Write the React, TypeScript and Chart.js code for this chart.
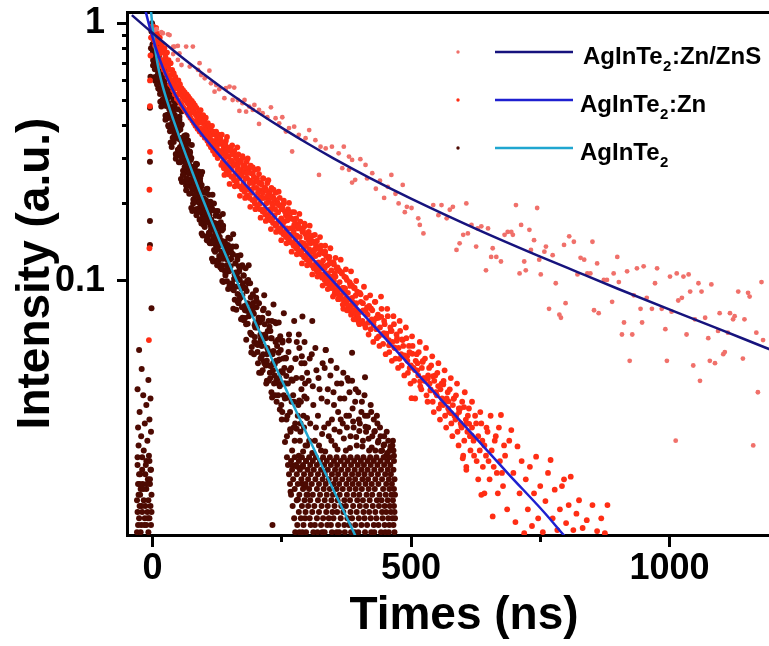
import { useEffect, useRef } from 'react';
import { Chart, registerables } from 'chart.js';

Chart.register(...registerables);

// ---------------- data ----------------
const seriesLabels = ['AgInTe₂:Zn/ZnS', 'AgInTe₂:Zn', 'AgInTe₂'];
const xTitle = 'Times (ns)';
const yTitle = 'Intensity (a.u.)';
const xMajorTicks = [0, 500, 1000];
const xMinorTicks = [250, 750];
const yMajorTicks = [1, 0.1];
const yMajorLabels = ['1', '0.1'];
const yMinorTicks = [0.9, 0.8, 0.7, 0.6, 0.5, 0.4, 0.3, 0.2];
const xRange = [-49.4, 1254.4];
const yRange = [0.010335, 1.1062];

// fitted decay curves
const fitZnS: [number, number][] = [[-40,1.076],[0,0.917],[50,0.757],[100,0.633],[150,0.534],[200,0.456],[258,0.384],[300,0.3415],[350,0.2992],[418,0.2526],[500,0.2089],[629,0.1584],[750,0.1244],[821,0.1085],[900,0.0933],[1014,0.0755],[1100,0.0646],[1185,0.0552],[1260,0.0482]];
const fitZn: [number, number][] = [[-14,1.126],[-12,1.085],[-6,0.974],[0,0.883],[5,0.818],[10,0.763],[20,0.672],[30,0.602],[45,0.524],[65,0.449],[90,0.383],[110,0.3414],[130,0.3064],[160,0.2618],[200,0.2132],[260,0.1571],[320,0.1158],[380,0.0854],[440,0.063],[515,0.043],[570,0.0326],[630,0.024],[690,0.0177],[760,0.0125],[795,0.01035],[810,0.0096]];
const fitBare: [number, number][] = [[-3,1.12],[0,0.964],[3,0.852],[6,0.771],[10,0.6915],[15,0.6206],[20,0.567],[30,0.4865],[40,0.4236],[52,0.3617],[65,0.3066],[78,0.2612],[90,0.2261],[100,0.2011],[114,0.1711],[130,0.143],[150,0.115],[175,0.0881],[200,0.0682],[230,0.0503],[260,0.0373],[300,0.0251],[340,0.017],[392,0.0103],[400,0.0095]];

// measured decay points: AgInTe2:Zn/ZnS
const znsPoints: [number, number][] = [
[4,0.942],[8,0.948],[17,0.923],[20,0.915],[30,0.906],[33,0.9],[40,0.811],[43,0.812],[49,0.817],[65,0.812],[78,0.812],[40,0.76],[49,0.721],[52,0.765],[56,0.689],[72,0.679],[88,0.659],[91,0.7],[94,0.63],[110,0.655],[101,0.612],[113,0.585],[123,0.576],[129,0.555],[120,0.543],[142,0.56],[149,0.568],[158,0.563],[139,0.512],[155,0.504],[165,0.504],[178,0.504],[174,0.49],[187,0.475],[197,0.482],[168,0.457],[181,0.454],[194,0.461],[206,0.461],[213,0.448],[229,0.472],[222,0.432],[238,0.428],[251,0.432],[206,0.407],[245,0.409],[264,0.392],[274,0.397],[258,0.38],[283,0.369],[303,0.385],[296,0.358],[315,0.352],[270,0.318],[325,0.332],[335,0.327],[347,0.332],[370,0.332],[322,0.258],[360,0.313],[380,0.304],[386,0.295],[402,0.297],[367,0.274],[380,0.27],[392,0.247],[386,0.241],[412,0.282],[415,0.25],[425,0.262],[432,0.228],[440,0.245],[448,0.21],[455,0.232],[462,0.258],[470,0.218],[476,0.2],[484,0.236],[488,0.185],
[492,0.194],[501,0.192],[514,0.175],[517,0.165],[524,0.153],[543,0.197],[559,0.197],[553,0.18],[569,0.175],[575,0.189],[581,0.194],[607,0.2],[588,0.132],[594,0.14],[601,0.151],[610,0.153],[617,0.165],[626,0.136],[629,0.16],[636,0.163],[645,0.11],[649,0.16],[655,0.124],[658,0.134],[665,0.124],[674,0.119],[681,0.151],[687,0.155],[694,0.155],[697,0.151],[703,0.197],[710,0.107],[713,0.165],[719,0.119],[722,0.11],[729,0.158],[732,0.132],[738,0.144],[744,0.192],[748,0.121],[751,0.106],[758,0.13],[761,0.136],[767,0.078],[774,0.126],[780,0.098],[787,0.074],[790,0.072],[796,0.138],[799,0.082],[806,0.149],[815,0.142],[822,0.106],[828,0.123],[835,0.121],[841,0.107],[847,0.107],[851,0.142],[854,0.077],[860,0.117],[863,0.075],[873,0.101],[879,0.101],[889,0.083],[892,0.107],[899,0.124],[902,0.099],[908,0.062],[912,0.069],[918,0.109],[923,0.049],[928,0.062],[931,0.088],[937,0.112],[944,0.078],[947,0.069],[950,0.114],[956,0.086],[966,0.078],[972,0.098],[976,0.112],[985,0.078],[992,0.065],[995,0.049],[1001,0.104],[1004,0.076],[1012,0.024],[1014,0.107],[1017,0.084],[1024,0.086],[1027,0.104],[1033,0.062],[1037,0.106],[1040,0.091],[1046,0.047],[1049,0.071],[1056,0.098],[1059,0.041],[1062,0.091],[1069,0.072],[1075,0.06],[1078,0.049],[1081,0.097],[1088,0.048],[1094,0.064],[1097,0.075],[1104,0.052],[1107,0.053],[1113,0.063],[1117,0.075],[1123,0.071],[1126,0.073],[1133,0.091],[1142,0.05],[1145,0.071],[1152,0.09],[1155,0.087],[1162,0.023],[1168,0.063],[1171,0.037],[1178,0.099],[1181,0.059]
];

// measured decay points: AgInTe2:Zn
const znPoints: [number, number][] = [
[-7,0.059],[-6,0.134],[-6,0.226],[-5,0.317],[-5,0.477],[-5,0.6],[-4,0.75],[-3,0.88],[-2,0.97],
[0,0.95],[1,0.9],[2,0.97],[3,0.86],[4,0.93],[5,0.82],[6,0.89],[7,0.96],[8,0.8],[9,0.87],[10,0.91],[11,0.78],
[12,0.84],[13,0.76],[14,0.88],[15,0.72],[16,0.8],[17,0.7],[18,0.83],[19,0.68],[20,0.77],[21,0.72],[22,0.66],[23,0.8],[24,0.69],[25,0.74],[26,0.64],[27,0.71],[28,0.77],[29,0.62],[30,0.68],
[31,0.72],[32,0.61],[33,0.66],[34,0.58],[35,0.7],[36,0.63],[37,0.57],[38,0.66],[39,0.6],[40,0.55],[41,0.64],[42,0.58],[43,0.53],[44,0.62],[45,0.56],[46,0.6],[47,0.51],[48,0.57],[49,0.53],[50,0.6],[51,0.5],[52,0.55],[53,0.58],[54,0.49],[55,0.53],[56,0.56],[57,0.48],[58,0.52],[59,0.55],[60,0.47],
[61,0.51],[62,0.54],[63,0.46],[64,0.5],[66,0.53],[67,0.45],[68,0.49],[69,0.52],[70,0.44],[71,0.47],[72,0.51],[73,0.43],[74,0.48],[75,0.45],[76,0.5],[77,0.42],[78,0.46],[79,0.49],[80,0.41],[81,0.45],[82,0.48],[83,0.4],[84,0.44],[85,0.47],[86,0.42],[87,0.39],[88,0.45],[89,0.41],[90,0.44],[91,0.38],[92,0.42],[93,0.46],[94,0.39],[95,0.43],[96,0.37],[97,0.41],[98,0.44],[99,0.38],[100,0.42],[101,0.36],[102,0.4],[103,0.43],[104,0.37],[105,0.39],[106,0.35],[107,0.41],[108,0.38],[109,0.34],[110,0.4],[111,0.36],[112,0.39],[113,0.33],[114,0.37],[115,0.4],[116,0.35],[117,0.32],[118,0.38],[119,0.34],[120,0.37],[121,0.31],[122,0.35],[123,0.38],[124,0.33],[125,0.36],[126,0.3],[127,0.34],[128,0.37],[129,0.32],[130,0.35],
[132,0.31],[134,0.34],[136,0.29],[138,0.33],[140,0.3],[142,0.35],[144,0.28],[146,0.32],[148,0.29],[150,0.33],[152,0.27],[154,0.31],[156,0.28],[158,0.32],[160,0.26],[162,0.3],[164,0.27],[166,0.31],[168,0.25],[170,0.29],[172,0.26],[174,0.3],[176,0.24],[178,0.28],[180,0.25],[182,0.29],[184,0.23],[186,0.27],[188,0.24],[190,0.28],[192,0.22],[194,0.26],[196,0.23],[198,0.27],[200,0.21],[202,0.25],[204,0.22],[206,0.26],[208,0.2],[210,0.24],[212,0.21],[214,0.25],[216,0.19],[218,0.23],[220,0.2],[222,0.24],[224,0.18],[226,0.22],[228,0.19],[230,0.23],[232,0.175],[234,0.21],[236,0.18],[238,0.22],[240,0.165],[242,0.2],[244,0.17],[246,0.21],[248,0.16],[250,0.19],[252,0.165],[254,0.2],[256,0.155],[258,0.18],[260,0.16],[262,0.19],[264,0.145],[266,0.175],[268,0.15],[270,0.185],[272,0.14],[274,0.165],[276,0.145],[278,0.175],[280,0.135],[282,0.16],[284,0.14],[286,0.17],[288,0.128],[290,0.155],[292,0.133],[294,0.163],[296,0.123],[298,0.147],[300,0.128],[302,0.155],[304,0.118],[306,0.14],[308,0.122],[310,0.15],[312,0.112],[314,0.133],[316,0.117],[318,0.143],[320,0.108],[322,0.127],[324,0.112],[326,0.137],[328,0.103],[330,0.12],[332,0.106],[334,0.13],[336,0.098],[338,0.115],[340,0.101],[342,0.124],[344,0.094],[346,0.11],[348,0.097],[350,0.118],[352,0.089],[354,0.104],[356,0.092],[358,0.113],[360,0.085],[362,0.099],[364,0.088],[366,0.108],[368,0.081],[370,0.094],[372,0.084],[374,0.103],[376,0.077],[378,0.09],[380,0.08],[382,0.098],[384,0.074],[386,0.086],[388,0.076],[390,0.094],[392,0.071],[394,0.082],[396,0.073],[398,0.09],[400,0.068],
[135,0.32],[141,0.31],[147,0.305],[153,0.29],[159,0.285],[165,0.28],[171,0.27],[177,0.265],[183,0.25],[189,0.245],[195,0.24],[201,0.23],[207,0.225],[213,0.22],[219,0.21],[225,0.205],[231,0.2],[237,0.19],[243,0.185],[249,0.175],[255,0.17],[261,0.172],[267,0.16],[273,0.155],[279,0.15],[285,0.148],[291,0.14],[297,0.137],[303,0.133],[309,0.13],[315,0.125],[321,0.118],[327,0.115],[333,0.112],[339,0.107],[345,0.104],[351,0.1],[357,0.096],[363,0.093],[369,0.09],[375,0.086],[381,0.085],[387,0.081],[393,0.078],[399,0.076],
[131,0.358],[133,0.282],[136,0.345],[138,0.274],[141,0.338],[143,0.268],[146,0.327],[148,0.259],[151,0.322],[153,0.254],[156,0.31],[158,0.246],[161,0.305],[163,0.24],[166,0.294],[168,0.233],[171,0.29],[173,0.227],[176,0.28],[178,0.222],[181,0.275],[183,0.215],[186,0.265],[188,0.21],[191,0.262],[193,0.206],[196,0.253],[198,0.2],[201,0.249],[203,0.196],[206,0.24],[208,0.19],[211,0.237],[213,0.186],[216,0.229],[218,0.181],[221,0.224],[223,0.177],[226,0.217],[228,0.172],[231,0.213],[233,0.168],[236,0.207],[238,0.164],[241,0.202],[243,0.16],[246,0.196],[248,0.155],[251,0.193],[253,0.152],[256,0.186],[258,0.148],[261,0.183],[263,0.145],[266,0.177],[268,0.141],[271,0.174],[273,0.137],[276,0.168],[278,0.134],[281,0.165],[283,0.131],[286,0.16],[288,0.127],[291,0.157],[293,0.124],[296,0.152],[298,0.121],[301,0.149],[303,0.118],[306,0.145],[308,0.115],[311,0.142],[313,0.112],[316,0.138],[318,0.109],[321,0.135],[323,0.107],[326,0.131],[328,0.104],[331,0.128],[333,0.101],[336,0.125],[338,0.099],[341,0.122],[343,0.096],[346,0.118],[348,0.094],[351,0.116],[353,0.091],[356,0.112],[358,0.089],[361,0.11],[363,0.087],[366,0.107],[368,0.085],[371,0.104],[373,0.082],[376,0.101],[378,0.08],[381,0.099],[383,0.078],[386,0.096],[388,0.076],[391,0.094],[393,0.074],[396,0.091],[398,0.072],
[134,0.37],[144,0.362],[154,0.336],[164,0.33],[174,0.305],[184,0.299],[194,0.276],[204,0.272],[214,0.25],[224,0.246],[234,0.226],[244,0.222],[254,0.205],[264,0.201],[274,0.185],[284,0.182],[294,0.167],[304,0.164],[314,0.151],[324,0.148],[334,0.137],[344,0.134],[354,0.123],[364,0.121],[374,0.111],[384,0.109],[394,0.1],
[139,0.258],[149,0.238],[159,0.233],[169,0.214],[179,0.21],[189,0.194],[199,0.19],[209,0.176],[219,0.171],[229,0.159],[239,0.155],[249,0.144],[259,0.14],[269,0.13],[279,0.127],[289,0.117],[299,0.115],[309,0.106],[319,0.104],[329,0.096],[339,0.093],[349,0.087],[359,0.085],[369,0.078],[379,0.077],[389,0.071],[399,0.069],
[132.5,0.314],[137.5,0.283],[142.5,0.321],[147.5,0.277],[152.5,0.294],[157.5,0.25],[162.5,0.298],[167.5,0.258],[172.5,0.256],[177.5,0.231],[182.5,0.262],[187.5,0.226],[192.5,0.241],[197.5,0.205],[202.5,0.243],[207.5,0.211],[212.5,0.21],[217.5,0.189],[222.5,0.214],[227.5,0.185],[232.5,0.197],[237.5,0.167],[242.5,0.199],[247.5,0.172],[252.5,0.171],[257.5,0.154],[262.5,0.175],[267.5,0.151],[272.5,0.161],[277.5,0.137],[282.5,0.163],[287.5,0.141],[292.5,0.14],[297.5,0.126],[302.5,0.143],[307.5,0.124],[312.5,0.131],[317.5,0.112],[322.5,0.133],[327.5,0.115],[332.5,0.114],[337.5,0.103],[342.5,0.117],[347.5,0.101],[352.5,0.107],[357.5,0.091],[362.5,0.109],[367.5,0.094],[372.5,0.0935],[377.5,0.0842],[382.5,0.0957],[387.5,0.0826],[392.5,0.0877],[397.5,0.0746],[402.5,0.0888],[407.5,0.0769],[412.5,0.0764],[417.5,0.0689],[422.5,0.0782],[427.5,0.0675],[432.5,0.0717],[437.5,0.061],[442.5,0.0726],[447.5,0.0628],[452.5,0.0625],[457.5,0.0563],[462.5,0.064],[467.5,0.0552],[472.5,0.0586],[477.5,0.0499],[482.5,0.0593],[487.5,0.0514],[492.5,0.051],[497.5,0.046],[502.5,0.0522],[507.5,0.0451],[512.5,0.048],[517.5,0.0408],[522.5,0.0485],[527.5,0.042],[532.5,0.0418],[537.5,0.0376],[542.5,0.0427],[547.5,0.0369],[552.5,0.0391],[557.5,0.0333],[562.5,0.0397],[567.5,0.0343],[572.5,0.0341],[577.5,0.0307],[582.5,0.0349],[587.5,0.0301],[592.5,0.032],[597.5,0.0273],[602.5,0.0324],[607.5,0.028],[612.5,0.0279],[617.5,0.0251],
[403,0.083],[406,0.07],[409,0.095],[412,0.066],[415,0.079],[418,0.062],[421,0.088],[424,0.071],[427,0.058],[430,0.083],[433,0.065],[436,0.074],[439,0.056],[442,0.087],[445,0.062],[448,0.07],[451,0.052],[454,0.078],[457,0.059],[460,0.066],[463,0.049],[466,0.073],[469,0.055],[472,0.062],[475,0.046],[478,0.07],[481,0.052],[484,0.059],[487,0.043],[490,0.066],[493,0.049],[496,0.056],[499,0.04],[502,0.061],[505,0.046],[508,0.035],[511,0.052],[514,0.043],[517,0.058],[520,0.038],[523,0.049],[526,0.041],[529,0.055],[532,0.034],[535,0.046],[538,0.038],[541,0.051],[544,0.031],[547,0.043],[550,0.036],[553,0.048],[556,0.029],[559,0.04],[562,0.033],[565,0.045],[568,0.027],[571,0.037],[574,0.031],[577,0.042],[580,0.025],[583,0.035],[586,0.029],[589,0.04],[592,0.023],[595,0.032],[598,0.027],[601,0.021],[604,0.037],[607,0.019],
[401,0.09],[404,0.076],[407,0.082],[410,0.068],[413,0.086],[416,0.074],[419,0.08],[422,0.065],[425,0.077],[428,0.07],[431,0.083],[434,0.06],[437,0.072],[440,0.066],[443,0.078],[446,0.057],[449,0.068],[452,0.061],[455,0.073],[458,0.053],[461,0.064],[464,0.058],[467,0.068],[470,0.05],[473,0.06],[476,0.055],[479,0.064],[482,0.047],[485,0.056],[488,0.051],[491,0.06],[494,0.044],[497,0.053],[500,0.047],[503,0.056],[506,0.041],[509,0.049],[512,0.045],[515,0.053],[518,0.039],[521,0.046],[524,0.042],[527,0.05],[530,0.036],[533,0.043],[536,0.04],[539,0.047],[542,0.034],[545,0.041],[548,0.037],[551,0.044],[554,0.032],[557,0.038],[560,0.035],[563,0.041],[566,0.03],[569,0.035],[572,0.032],[575,0.038],[578,0.028],[581,0.033],[584,0.03],[587,0.036],[590,0.026],[593,0.031],[596,0.028],[599,0.034],[603,0.024],[606,0.029],[609,0.026],[612,0.032],[615,0.022],[618,0.027],[621,0.024],[624,0.03],[627,0.02],[630,0.025],[633,0.022],[636,0.028],[639,0.019],[642,0.023],[645,0.021],[648,0.026],[652,0.017],[656,0.022],[660,0.019],[664,0.025],[668,0.015],[672,0.02],[676,0.018],[680,0.023],
[610,0.03],[614,0.025],[618,0.034],[622,0.021],[626,0.028],[630,0.017],[634,0.031],[638,0.024],[642,0.015],[646,0.027],[650,0.02],[654,0.03],[658,0.0122],[662,0.024],[666,0.018],[670,0.027],[674,0.0302],[678,0.016],[682,0.021],[686,0.013],[690,0.024],[694,0.0264],[698,0.018],[702,0.0116],[706,0.0228],[710,0.015],[714,0.02],[719,0.0105],[722,0.017],[726,0.013],[730,0.019],[734,0.0112],[738,0.015],[742,0.0208],[746,0.012],[750,0.016],[755,0.0106],[760,0.014],[765,0.018],[770,0.0202],[774,0.012],[778,0.0155],[783,0.0108],[788,0.013],[792,0.016],[796,0.017],[800,0.0115],[805,0.0135],[809,0.0174],[814,0.0108],[820,0.0125],[825,0.0141],[832,0.011],[840,0.0118],[851,0.0135],[860,0.0107],[868,0.012],[875,0.0105],[880,0.0135],
[501,0.0351],[600,0.0205],[607,0.0185],[636,0.0148]
];

// measured decay points: AgInTe2 (rise, pre-pulse column, band and sparse tail)
const barePoints: [number, number][] = [
[-5,0.47],[-5,0.29],[-5,0.171],[-5,0.138],[-4,0.62],[-3,0.8],[-2,0.93],[-1,1.0],
[-29,0.038],[-26,0.054],[-21,0.0456],[-8,0.0413],[-2,0.0783],[-4,0.035],[-12,0.033],[-25,0.031],[-18,0.036],[-6,0.029],[-28,0.027],[-15,0.028],[-22,0.025],[-10,0.024],[-3,0.026],[-27,0.023],[-17,0.022],[-7,0.021],[-20,0.0207],[-12,0.02],[-29,0.0193],[-4,0.0185],[-24,0.0178],[-14,0.0178],[-9,0.017],[-28,0.0163],[-19,0.0163],[-5,0.0163],[-23,0.0156],[-12,0.0156],[-2,0.0148],[-27,0.0148],[-17,0.0141],[-8,0.0141],[-25,0.0134],[-14,0.0134],[-4,0.0134],[-29,0.0127],[-20,0.0127],[-10,0.0127],[-26,0.012],[-15,0.012],[-6,0.012],[-22,0.0113],[-28,0.0113],[-12,0.0113],[-30,0.0106],[-23,0.0106],[-8,0.0106],[-3,0.0113],[-30,0.0141],[-24,0.0148],[-18,0.0156],[-11,0.0163],[-5,0.017],[-26,0.0178],[-20,0.0185],[-13,0.0193],[-6,0.02],[-29,0.0207],[-16,0.0113],[-9,0.012],[-2,0.0127],[-21,0.0134],[-25,0.0163],[-3,0.0185],
[0,0.791],[1,0.686],[2,0.866],[3,0.704],[4,0.785],[5,0.599],[6,0.878],[7,0.692],[8,0.758],[9,0.614],[10,0.695],[11,0.558],[12,0.761],[13,0.611],[14,0.701],[15,0.496],[16,0.774],[17,0.556],[18,0.61],[19,0.504],[20,0.574],[21,0.486],[22,0.639],[23,0.503],[24,0.576],[25,0.422],[26,0.658],[27,0.504],[28,0.562],[29,0.442],[30,0.514],[31,0.398],[32,0.574],[33,0.446],[34,0.527],[35,0.345],[36,0.597],[37,0.403],[38,0.453],[39,0.36],[40,0.423],[41,0.346],[42,0.477],[43,0.36],[44,0.423],[45,0.298],[46,0.493],[47,0.37],[48,0.417],[49,0.323],[50,0.383],[51,0.289],[52,0.434],[53,0.33],[54,0.397],[55,0.249],[56,0.455],[57,0.299],[58,0.34],[59,0.268],[60,0.319],[61,0.26],[62,0.36],[63,0.273],[64,0.318],[65,0.225],[66,0.366],[67,0.276],[68,0.309],[69,0.242],[70,0.283],[71,0.218],[72,0.318],[73,0.247],[74,0.295],[75,0.192],[76,0.337],[77,0.228],[78,0.258],[79,0.207],[80,0.245],[81,0.204],[82,0.277],[83,0.214],[84,0.248],[85,0.18],[86,0.284],[87,0.217],[88,0.242],[89,0.191],[90,0.222],[91,0.173],[92,0.25],[93,0.195],[94,0.232],[95,0.153],[96,0.265],[97,0.181],[98,0.204],[99,0.165],[100,0.194],[101,0.162],[102,0.22],[103,0.17],[104,0.197],[105,0.144],[106,0.228],[107,0.175],[108,0.195],[109,0.154],[110,0.18],[111,0.14],[112,0.203],[113,0.158],[114,0.188],[115,0.122],[116,0.216],[117,0.145],[118,0.165],[119,0.132],[120,0.157],[121,0.13],[122,0.179],[123,0.137],[124,0.161],[125,0.115],[126,0.187],[127,0.142],[128,0.16],[129,0.125],[130,0.148],[131,0.113],[132,0.169],[133,0.13],[134,0.157],[135,0.1],[136,0.182],[137,0.122],[138,0.139],[139,0.11],[140,0.132],
[1,0.743],[3,0.818],[5,0.619],[7,0.73],[9,0.82],[11,0.594],[13,0.645],[15,0.704],[17,0.476],[19,0.616],[21,0.534],[23,0.6],[25,0.439],[27,0.537],[29,0.617],[31,0.429],[33,0.476],[35,0.533],[37,0.331],[39,0.459],[41,0.388],[43,0.441],[45,0.311],[47,0.396],[49,0.464],[51,0.314],[53,0.354],[55,0.403],[57,0.242],[59,0.346],[61,0.292],[63,0.334],[65,0.235],[67,0.295],[69,0.341],[71,0.236],[73,0.264],[75,0.3],[77,0.187],[79,0.262],[81,0.227],[83,0.258],[85,0.187],[87,0.231],[89,0.266],[91,0.186],[93,0.208],[95,0.236],[97,0.15],[99,0.208],[101,0.18],[103,0.206],[105,0.149],[107,0.186],[109,0.216],[111,0.151],[113,0.169],[115,0.191],[117,0.119],[119,0.168],[121,0.145],[123,0.167],[125,0.12],[127,0.152],[129,0.178],[131,0.123],[133,0.139],[135,0.16],[137,0.099],[139,0.142],
[0,0.829],[2,0.714],[4,0.882],[6,0.608],[8,0.76],[10,0.658],[12,0.743],[14,0.552],[16,0.63],[18,0.562],[20,0.606],[22,0.511],[24,0.656],[26,0.431],[28,0.562],[30,0.483],[32,0.559],[34,0.395],[36,0.468],[38,0.41],[40,0.451],[42,0.367],[44,0.49],[46,0.308],[48,0.417],[50,0.357],[52,0.422],[54,0.289],[56,0.35],[58,0.306],[60,0.34],[62,0.277],[64,0.368],[66,0.233],[68,0.309],[70,0.265],[72,0.309],[74,0.219],[76,0.264],[78,0.233],[80,0.26],[82,0.216],[84,0.285],[86,0.184],[88,0.242],[90,0.209],[92,0.243],[94,0.174],[96,0.209],[98,0.186],[100,0.206],[102,0.172],[104,0.227],[106,0.147],[108,0.195],[110,0.168],[112,0.197],[114,0.14],[116,0.168],[118,0.149],[120,0.167],[122,0.139],[124,0.186],[126,0.119],[128,0.16],[130,0.138],[132,0.165],[134,0.115],[136,0.141],[138,0.125],[140,0.141],
[0.5,0.767],[2.5,0.842],[4.5,0.663],[6.5,0.737],[8.5,0.809],[10.5,0.635],[12.5,0.685],[14.5,0.532],[16.5,0.593],[18.5,0.653],[20.5,0.506],[22.5,0.572],[24.5,0.636],[26.5,0.492],[28.5,0.541],[30.5,0.402],[32.5,0.464],[34.5,0.523],[36.5,0.392],[38.5,0.449],[40.5,0.503],[42.5,0.377],[44.5,0.42],[46.5,0.306],[48.5,0.363],[50.5,0.417],[52.5,0.308],[54.5,0.359],[56.5,0.405],[58.5,0.303],[60.5,0.337],[62.5,0.244],[64.5,0.286],[66.5,0.325],[68.5,0.244],[70.5,0.281],[72.5,0.316],[74.5,0.243],[76.5,0.27],[78.5,0.2],[80.5,0.236],[82.5,0.268],[84.5,0.203],[86.5,0.233],[88.5,0.261],[90.5,0.201],[92.5,0.223],[94.5,0.167],[96.5,0.195],[98.5,0.221],[100.5,0.169],[102.5,0.195],[104.5,0.22],[106.5,0.17],[108.5,0.189],[110.5,0.141],[112.5,0.164],[114.5,0.188],[116.5,0.141],[118.5,0.164],[120.5,0.187],[122.5,0.143],[124.5,0.16],[126.5,0.119],[128.5,0.14],[130.5,0.162],[132.5,0.122],[134.5,0.143],[136.5,0.164],[138.5,0.125],
[1.25,0.721],[3.75,0.807],[6.25,0.721],[8.75,0.579],[11.25,0.753],[13.75,0.654],[16.25,0.548],[18.75,0.715],[21.25,0.548],[23.75,0.578],[26.25,0.478],[28.75,0.552],[31.25,0.489],[33.75,0.381],[36.25,0.523],[38.75,0.447],[41.25,0.358],[43.75,0.505],[46.25,0.373],[48.75,0.401],[51.25,0.325],[53.75,0.387],[56.25,0.337],[58.75,0.258],[61.25,0.365],[63.75,0.31],[66.25,0.25],[68.75,0.351],[71.25,0.261],[73.75,0.279],[76.25,0.23],[78.75,0.271],[81.25,0.241],[83.75,0.19],[86.25,0.262],[88.75,0.226],[91.25,0.186],[93.75,0.258],[96.25,0.196],[98.75,0.209],[101.25,0.174],[103.75,0.204],[106.25,0.182],[108.75,0.143],[111.25,0.199],[113.75,0.173],[116.25,0.141],[118.75,0.2],[121.25,0.15],[123.75,0.161],[126.25,0.133],[128.75,0.16],[131.25,0.142],[133.75,0.111],[136.25,0.159],[138.75,0.139],
[140.5,0.137],[143.5,0.115],[146.5,0.147],[149.5,0.121],[152.5,0.096],[155.5,0.127],[158.5,0.102],[161.5,0.136],[164.5,0.089],[167.5,0.109],[170.5,0.095],[173.5,0.115],[176.5,0.0704],[179.5,0.094],[182.5,0.0766],[185.5,0.0979],[188.5,0.0782],[191.5,0.062],[194.5,0.0822],[197.5,0.0674],[200.5,0.086],[203.5,0.0565],[206.5,0.0695],[209.5,0.0596],[212.5,0.072],[215.5,0.0488],[218.5,0.0609],[221.5,0.052],[224.5,0.07],[227.5,0.0419],[230.5,0.0599],[233.5,0.0482],[236.5,0.0693],[239.5,0.0412],[242.5,0.0592],[245.5,0.0496],[248.5,0.0398],[251.5,0.0586],[254.5,0.04],[257.5,0.0504],
[141.25,0.107],[143.75,0.128],[146.25,0.093],[148.75,0.112],[151.25,0.132],[153.75,0.098],[156.25,0.078],[158.75,0.106],[161.25,0.095],[163.75,0.125],[166.25,0.082],[168.75,0.101],[171.25,0.071],[173.75,0.088],[176.25,0.105],[178.75,0.077],[181.25,0.0592],[183.75,0.082],[186.25,0.073],[188.75,0.098],[191.25,0.062],[193.75,0.076],[196.25,0.052],[198.75,0.066],[201.25,0.079],[203.75,0.057],[206.25,0.044],[208.75,0.062],[211.25,0.056],[213.75,0.077],[216.25,0.048],[218.75,0.06],[221.25,0.041],[223.75,0.0536],[226.25,0.0664],[228.75,0.0468],[231.25,0.0353],[233.75,0.0535],[236.25,0.0475],[238.75,0.0685],[241.25,0.0402],[243.75,0.0527],[246.25,0.0317],[248.75,0.0446],[251.25,0.0577],[253.75,0.036],[256.25,0.0237],[258.75,0.0428],[261.25,0.0352],[263.75,0.0588],[266.25,0.0266],[268.75,0.0415],[271.25,0.0192],[273.75,0.034],[276.25,0.0498],[278.75,0.0267],[281.25,0.0142],[283.75,0.0344],[286.25,0.028],[288.75,0.051],[291.25,0.0218],[293.75,0.0356],[296.25,0.0159],[298.75,0.0294],
[142,0.125],[144,0.0997],[146,0.138],[148,0.109],[150,0.146],[152,0.122],[154,0.0934],[156,0.152],[158,0.102],[160,0.117],[162,0.0773],[164,0.121],[166,0.102],[168,0.085],[170,0.126],[172,0.0932],[174,0.072],[176,0.105],[178,0.0799],[180,0.112],[182,0.0915],[184,0.0682],[186,0.115],[188,0.0748],[190,0.0863],[192,0.0554],[194,0.0888],[196,0.0746],[198,0.0606],[200,0.0921],
[143,0.11],[147,0.132],[151,0.114],[155,0.136],[159,0.0845],[163,0.106],[167,0.114],[171,0.0864],[175,0.098],[179,0.0718],[183,0.1],[187,0.076],[191,0.0528],[195,0.0785],[199,0.069],
[141,0.105],[145,0.121],[149,0.096],[153,0.128],[157,0.092],[161,0.108],[165,0.083],[169,0.112],[173,0.079],[177,0.094],[181,0.068],[185,0.101],[189,0.063],[193,0.081],[197,0.058],[201,0.084],[203,0.053],[207,0.069],[211,0.051],[215,0.078],[219,0.047],[223,0.064],[227,0.044],[231,0.07],[235,0.04],[239,0.049],[243,0.036],[247,0.061],[251,0.031],[255,0.046],[259,0.029],[263,0.053],[267,0.026],[271,0.041],[275,0.024],[279,0.058],[283,0.021],[287,0.034],[291,0.019],[295,0.04],[299,0.023],
[202,0.066],[204,0.048],[206,0.082],[208,0.058],[210,0.044],[212,0.071],[214,0.052],[216,0.088],[218,0.062],[220,0.04],[222,0.055],[224,0.075],[226,0.047],[228,0.064],[230,0.037],[232,0.052],[234,0.081],[236,0.043],[238,0.058],[240,0.034],[242,0.049],[244,0.069],[246,0.039],[248,0.054],[250,0.029],[252,0.044],[254,0.075],[256,0.035],[258,0.05],[260,0.025],[262,0.04],[264,0.062],[266,0.031],[268,0.046],[270,0.022],[272,0.036],[274,0.07],[276,0.028],[278,0.042],[280,0.019],[282,0.033],[284,0.055],[286,0.026],[288,0.038],[290,0.0163],[292,0.03],[294,0.048],[296,0.023],[298,0.035],[300,0.0148],
[201,0.057],[205,0.072],[209,0.05],[213,0.045],[217,0.068],[221,0.049],[225,0.041],[229,0.06],[233,0.045],[237,0.036],[241,0.056],[245,0.042],[249,0.033],[253,0.05],[257,0.04],[261,0.03],[265,0.045],[269,0.034],[273,0.027],[277,0.05],[281,0.03],[285,0.024],[289,0.042],[293,0.027],[297,0.02],
[283,0.062],[288,0.048],[294,0.058],[299,0.044],[304,0.05],[310,0.039],[315,0.055],[321,0.042],[327,0.035],[333,0.046],[339,0.038],[345,0.049],[351,0.033],[357,0.04],[363,0.035],[369,0.044],[375,0.03],[381,0.037],[387,0.032],[393,0.038],[399,0.029],[405,0.034],[411,0.03],[417,0.027],[423,0.031],[429,0.026],[435,0.028],[441,0.025],[447,0.023],[453,0.026],[459,0.022],[465,0.024],
[302,0.041],[305,0.028],[308,0.052],[311,0.033],[314,0.024],[317,0.045],[320,0.03],[323,0.038],[326,0.022],[329,0.048],[332,0.027],[335,0.054],[338,0.034],[341,0.025],[344,0.043],[347,0.029],[350,0.037],[353,0.023],[356,0.046],[359,0.031],[362,0.026],[365,0.04],[368,0.028],[371,0.035],[374,0.022],[377,0.042],[380,0.03],[383,0.025],[386,0.041],[389,0.027],[392,0.034],[395,0.023],[398,0.037],[401,0.028],[404,0.031],[407,0.024],[410,0.036],[413,0.026],[416,0.03],[419,0.022],[422,0.033],[425,0.025],[428,0.029],[431,0.022],[434,0.03],[437,0.024],[440,0.027],[444,0.022],[448,0.025],[452,0.021],[456,0.024],[460,0.022],[464,0.023],[467,0.021],
[303,0.024],[309,0.0215],[316,0.027],[322,0.023],[328,0.0255],[334,0.0218],[340,0.028],[346,0.024],[352,0.0265],[358,0.0222],[364,0.029],[370,0.0245],[376,0.027],[382,0.0225],[388,0.0285],[394,0.0248],[400,0.0262],[406,0.0228],[412,0.0272],[418,0.0244],[424,0.0226],[430,0.0262],[436,0.0236],[442,0.0219],[448,0.0232],[454,0.0215],[460,0.0228],[466,0.022],
[290,0.0728],[309,0.07],[335,0.054],[386,0.0527],[379,0.041],[411,0.0423],[232,0.0113],[267,0.0152]
];

// AgInTe2 low-count floor: quantised intensity levels and the times found on each level
const bareFloorLevels = [0.0106, 0.0113, 0.012, 0.0127, 0.0134, 0.0141, 0.0148, 0.0156, 0.0163, 0.017, 0.0178, 0.0185, 0.0193, 0.02, 0.0207];
const bareFloorTimes: number[][] = [
[276,284,290,297,311,319,328,333,347,356,361,372,384,391,398,411,423,429,442,450,457,468],
[280,292,306,314,326,338,345,359,371,380,392,404,415,428,437,449,458,466],
[274,287,295,304,318,330,341,350,364,377,386,399,410,422,433,445,456,464,469],
[283,296,309,322,336,348,357,369,383,395,408,419,431,444,452,461,468],
[271,289,301,313,327,339,352,365,374,388,401,413,426,438,449,459,467],
[279,294,305,320,333,346,358,371,382,396,407,420,434,443,455,465],
[268,284,298,310,324,337,349,362,376,389,400,414,425,439,451,462,469],
[275,291,303,318,331,343,356,368,381,393,405,418,430,446,458,467],
[266,281,296,308,322,335,350,361,375,387,399,412,424,437,452,463],
[272,288,301,315,329,341,354,367,380,392,406,417,431,444,457,468],
[264,279,293,306,320,333,347,359,373,386,398,410,423,436,450,461],
[270,285,300,312,326,339,353,365,378,391,404,416,429,442,455,466],
[262,277,291,305,318,332,345,357,371,384,397,409,422,435,448,460],
[268,283,297,310,324,337,351,364,377,390,403,416,428,441,454,467],
[260,275,289,303,316,330,343,356,370,383,396,408,421,433,447,459]
];

// ---------------- styles ----------------
const FONT = '"Liberation Sans", Arial, Helvetica, sans-serif';
const POINT_COLORS = ['#F0706A', '#FF2D14', '#4D0A02'];
const LINE_COLORS = ['#16137D', '#1E20D0', '#20A6D0'];
const LEGEND_ROW_Y = [52, 100, 148];
const LEGEND_TEXT_X = [583, 580, 580];
const CANVAS_W = 805; // plot continues past the visible 769 px, as in the cropped original
const CANVAS_H = 646;

const legendPlugin = {
  id: 'decayLegend',
  afterDraw(chart: any) {
    const ctx = chart.ctx as CanvasRenderingContext2D;
    ctx.save();
    seriesLabels.forEach((label, i) => {
      const y = LEGEND_ROW_Y[i];
      ctx.fillStyle = POINT_COLORS[i];
      ctx.beginPath();
      ctx.arc(458, y, 1.7, 0, Math.PI * 2);
      ctx.fill();
      ctx.strokeStyle = LINE_COLORS[i];
      ctx.lineWidth = 2.5;
      ctx.beginPath();
      ctx.moveTo(495, y);
      ctx.lineTo(573, y);
      ctx.stroke();
      const parts = label.split('₂');
      let x = LEGEND_TEXT_X[i];
      const base = y + 11.5;
      ctx.fillStyle = '#000';
      ctx.textAlign = 'left';
      ctx.textBaseline = 'alphabetic';
      ctx.font = `bold 24px ${FONT}`;
      ctx.fillText(parts[0], x, base);
      x += ctx.measureText(parts[0]).width;
      ctx.font = `bold 15px ${FONT}`;
      ctx.fillText('2', x + 0.5, base + 7);
      x += ctx.measureText('2').width + 1;
      if (parts[1]) {
        ctx.font = `bold 24px ${FONT}`;
        ctx.fillText(parts[1], x, base);
      }
    });
    ctx.restore();
  },
};

const toXY = (pts: [number, number][]) => pts.map(([x, y]) => ({ x, y }));
const noPad = (s: any) => { s.paddingLeft = 0; s.paddingRight = 0; s.paddingTop = 0; s.paddingBottom = 0; };

export default function App() {
  const ref = useRef<HTMLCanvasElement>(null);

  useEffect(() => {
    const canvas = ref.current;
    if (!canvas) return;
    const floorPoints: [number, number][] = [];
    bareFloorTimes.forEach((times, k) => times.forEach((t) => floorPoints.push([t, bareFloorLevels[k]])));

    const tickFont = { family: FONT, size: 36, weight: 'bold' as const };
    const titleFont = { family: FONT, size: 46, weight: 'bold' as const };

    const chart = new Chart(canvas, {
      type: 'scatter',
      data: {
        datasets: [
          { type: 'line', label: seriesLabels[0] + ' fit', data: toXY(fitZnS), borderColor: LINE_COLORS[0], borderWidth: 2.5, pointRadius: 0, fill: false, cubicInterpolationMode: 'monotone', order: 0 } as any,
          { type: 'line', label: seriesLabels[1] + ' fit', data: toXY(fitZn), borderColor: LINE_COLORS[1], borderWidth: 2.5, pointRadius: 0, fill: false, cubicInterpolationMode: 'monotone', order: 0 } as any,
          { type: 'line', label: seriesLabels[2] + ' fit', data: toXY(fitBare), borderColor: LINE_COLORS[2], borderWidth: 2.5, pointRadius: 0, fill: false, cubicInterpolationMode: 'monotone', order: 0 } as any,
          { label: seriesLabels[0], data: toXY(znsPoints), backgroundColor: POINT_COLORS[0], pointRadius: 2.4, pointBorderWidth: 0, borderWidth: 0, order: 1 },
          { label: seriesLabels[1], data: toXY(znPoints), backgroundColor: POINT_COLORS[1], pointRadius: 2.9, pointBorderWidth: 0, borderWidth: 0, order: 2 },
          { label: seriesLabels[2], data: toXY([...barePoints, ...floorPoints]), backgroundColor: POINT_COLORS[2], pointRadius: 3.0, pointBorderWidth: 0, borderWidth: 0, order: 3 },
        ],
      },
      options: {
        responsive: false,
        animation: false,
        events: [],
        layout: { padding: { left: 0, top: 12, right: 0, bottom: 0 } },
        plugins: { legend: { display: false }, tooltip: { enabled: false } },
        scales: {
          x: {
            type: 'linear', position: 'bottom', weight: 1, min: xRange[0], max: xRange[1],
            afterBuildTicks: (s: any) => { s.ticks = xMajorTicks.map((value) => ({ value })); },
            afterFit: (s: any) => { s.height = 111; noPad(s); },
            ticks: { autoSkip: false, maxRotation: 0, minRotation: 0, padding: 0, color: '#000', font: tickFont, callback: (v: any) => String(v) },
            grid: { display: true, drawOnChartArea: false, drawTicks: true, tickLength: 12, tickWidth: 3, tickColor: '#000' },
            border: { display: true, width: 3, color: '#000' },
            title: { display: true, text: xTitle, color: '#000', font: titleFont, padding: { top: 0, bottom: 2 } },
          },
          xMinor: {
            type: 'linear', position: 'bottom', weight: 0, min: xRange[0], max: xRange[1],
            afterBuildTicks: (s: any) => { s.ticks = xMinorTicks.map((value) => ({ value })); },
            afterFit: (s: any) => { s.height = 0; noPad(s); },
            ticks: { display: false },
            grid: { display: true, drawOnChartArea: false, drawTicks: true, tickLength: 7, tickWidth: 3, tickColor: '#000' },
            border: { display: false },
          },
          xTop: {
            type: 'linear', position: 'top', min: xRange[0], max: xRange[1],
            afterFit: (s: any) => { s.height = 0; noPad(s); },
            ticks: { display: false },
            grid: { display: true, drawOnChartArea: false, drawTicks: false },
            border: { display: true, width: 3, color: '#000' },
          },
          y: {
            type: 'logarithmic', position: 'left', weight: 1, min: yRange[0], max: yRange[1],
            afterBuildTicks: (s: any) => { s.ticks = yMajorTicks.map((value) => ({ value })); },
            afterFit: (s: any) => { s.width = 127; noPad(s); },
            ticks: {
              autoSkip: false, padding: 12, color: '#000', font: tickFont,
              callback: (v: any) => { const k = yMajorTicks.indexOf(Number(v)); return k >= 0 ? yMajorLabels[k] : ''; },
            },
            grid: { display: true, drawOnChartArea: false, drawTicks: true, tickLength: 10, tickWidth: 3, tickColor: '#000' },
            border: { display: true, width: 3, color: '#000' },
            title: { display: true, text: yTitle, color: '#000', font: titleFont, padding: { top: 9, bottom: 0 } },
          },
          yMinor: {
            type: 'logarithmic', position: 'left', weight: 0, min: yRange[0], max: yRange[1],
            afterBuildTicks: (s: any) => { s.ticks = yMinorTicks.map((value) => ({ value })); },
            afterFit: (s: any) => { s.width = 0; noPad(s); },
            ticks: { display: false },
            grid: { display: true, drawOnChartArea: false, drawTicks: true, tickLength: 5, tickWidth: 3, tickColor: '#000' },
            border: { display: false },
          },
        },
      } as any,
      plugins: [legendPlugin],
    });
    return () => chart.destroy();
  }, []);

  return (
    <div style={{ position: 'absolute', left: 0, top: 0, width: 769, height: CANVAS_H, overflow: 'hidden', background: '#fff' }}>
      <canvas ref={ref} width={CANVAS_W} height={CANVAS_H} style={{ display: 'block' }} />
    </div>
  );
}
